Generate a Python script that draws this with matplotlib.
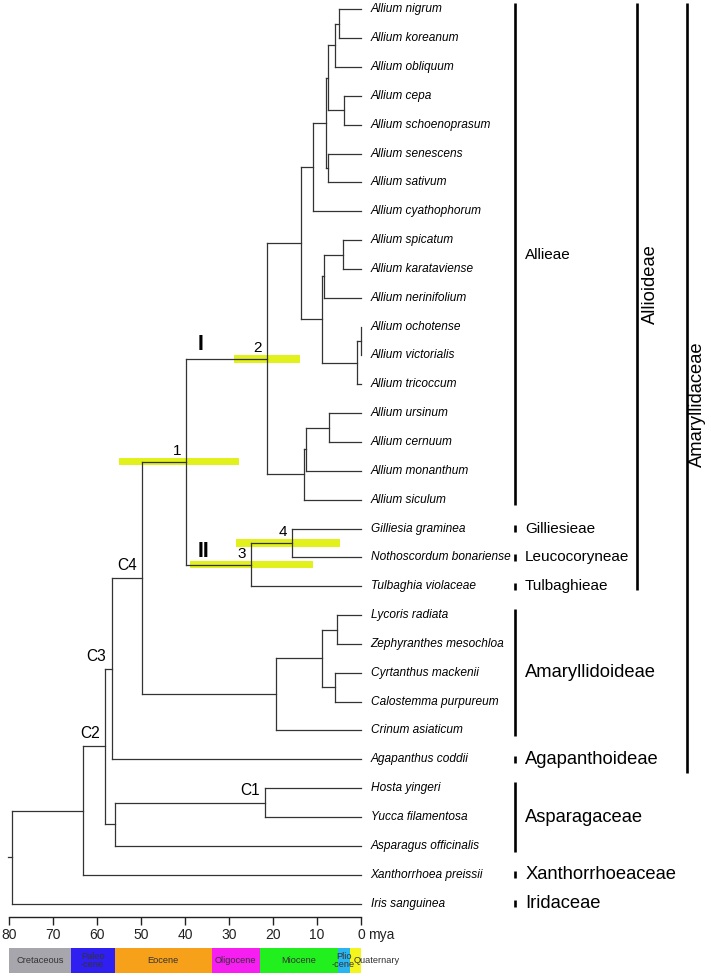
import matplotlib
matplotlib.use('Agg')
import matplotlib.pyplot as plt

plt.rcParams['font.family'] = ['Liberation Sans', 'DejaVu Sans']

# tips, top to bottom
tips = ['Allium nigrum', 'Allium koreanum', 'Allium obliquum', 'Allium cepa',
        'Allium schoenoprasum', 'Allium senescens', 'Allium sativum',
        'Allium cyathophorum', 'Allium spicatum', 'Allium karataviense',
        'Allium nerinifolium', 'Allium ochotense', 'Allium victorialis',
        'Allium tricoccum', 'Allium ursinum', 'Allium cernuum',
        'Allium monanthum', 'Allium siculum', 'Gilliesia graminea',
        'Nothoscordum bonariense', 'Tulbaghia violaceae', 'Lycoris radiata',
        'Zephyranthes mesochloa', 'Cyrtanthus mackenii', 'Calostemma purpureum',
        'Crinum asiaticum', 'Agapanthus coddii', 'Hosta yingeri',
        'Yucca filamentosa', 'Asparagus officinalis', 'Xanthorrhoea preissii',
        'Iris sanguinea']

# internal nodes: (name, child 1, child 2, age in mya)
clades = [
    ('a1', 'Allium nigrum', 'Allium koreanum', 5.1),
    ('a2', 'a1', 'Allium obliquum', 6.0),
    ('a3', 'Allium cepa', 'Allium schoenoprasum', 3.9),
    ('a4', 'a2', 'a3', 7.4),
    ('a5', 'Allium senescens', 'Allium sativum', 7.6),
    ('a6', 'a4', 'a5', 8.0),
    ('a7', 'a6', 'Allium cyathophorum', 10.8),
    ('b1', 'Allium spicatum', 'Allium karataviense', 4.2),
    ('b2', 'b1', 'Allium nerinifolium', 8.4),
    ('b3', 'Allium ochotense', 'Allium victorialis', 0.1),
    ('b4', 'b3', 'Allium tricoccum', 0.9),
    ('b5', 'b2', 'b4', 8.9),
    ('a8', 'a7', 'b5', 13.7),
    ('c1', 'Allium ursinum', 'Allium cernuum', 7.2),
    ('c2', 'c1', 'Allium monanthum', 12.4),
    ('c3', 'c2', 'Allium siculum', 13.0),
    ('n2', 'a8', 'c3', 21.4),
    ('n4', 'Gilliesia graminea', 'Nothoscordum bonariense', 15.6),
    ('n3', 'n4', 'Tulbaghia violaceae', 25.0),
    ('n1', 'n2', 'n3', 39.8),
    ('d1', 'Lycoris radiata', 'Zephyranthes mesochloa', 5.5),
    ('d2', 'Cyrtanthus mackenii', 'Calostemma purpureum', 6.0),
    ('d3', 'd1', 'd2', 8.9),
    ('d4', 'd3', 'Crinum asiaticum', 19.3),
    ('C4', 'n1', 'd4', 49.8),
    ('C3', 'C4', 'Agapanthus coddii', 56.7),
    ('C1', 'Hosta yingeri', 'Yucca filamentosa', 21.8),
    ('e1', 'C1', 'Asparagus officinalis', 56.0),
    ('C2', 'C3', 'e1', 58.2),
    ('f1', 'C2', 'Xanthorrhoea preissii', 63.2),
    ('root', 'f1', 'Iris sanguinea', 79.3),
]

# 95% HPD bars on numbered nodes: (label, node, old end, young end)
hpd = [('1', 'n1', 54.9, 27.7),
       ('2', 'n2', 28.9, 13.9),
       ('3', 'n3', 38.9, 10.8),
       ('4', 'n4', 28.3, 4.8)]

# clade brackets: (label, first tip, last tip, column)
groups = [('Allieae', 0, 17, 0), ('Gilliesieae', 18, 18, 0),
          ('Leucocoryneae', 19, 19, 0), ('Tulbaghieae', 20, 20, 0),
          ('Amaryllidoideae', 21, 25, 0), ('Agapanthoideae', 26, 26, 0),
          ('Asparagaceae', 27, 29, 0), ('Xanthorrhoeaceae', 30, 30, 0),
          ('Iridaceae', 31, 31, 0), ('Allioideae', 0, 20, 1),
          ('Amaryllidaceae', 0, 26, 2)]
small_groups = ['Allieae', 'Gilliesieae', 'Leucocoryneae', 'Tulbaghieae']

# geological time scale
epochs = ['Cretaceous', 'Paleo\n-cene', 'Eocene', 'Oligocene', 'Miocene',
          'Plio\n-cene', 'Quaternary']
epoch_old = [80, 66, 56, 33.9, 23, 5.3, 2.6]
epoch_young = [66, 56, 33.9, 23, 5.3, 2.6, 0]
epoch_colors = ['#a6a6ac', '#2f1ff0', '#f7a11a', '#f71ef2', '#22f01e',
                '#2ab4f0', '#f5f51e']
time_ticks = [80, 70, 60, 50, 40, 30, 20, 10, 0]

LINE = '#333333'

fig = plt.figure(figsize=(7.11, 9.76), dpi=100)
ax = fig.add_axes([0, 0, 1, 1])
ax.set_xlim(82.05, -79.55)
ax.set_ylim(33.51, -0.322)
ax.axis('off')

pos = {}
for i, t in enumerate(tips):
    pos[t] = (0.0, float(i))
for name, c1, c2, age in clades:
    pos[name] = (age, (pos[c1][1] + pos[c2][1]) / 2)

# HPD bars under the branches
for lab, node, old, young in hpd:
    ax.barh(pos[node][1], old - young, left=young, height=0.26,
            color='#e2f01c', zorder=1)
    ax.annotate(lab, xy=pos[node], xytext=(-9, 11), textcoords='offset pixels',
                ha='center', va='center', fontsize=11, zorder=4)

# branches
for name, c1, c2, age in clades:
    y1, y2 = pos[c1][1], pos[c2][1]
    ax.plot([age, age], [y1, y2], color=LINE, lw=0.9, zorder=2)
    for c in (c1, c2):
        ax.plot([age, pos[c][0]], [pos[c][1], pos[c][1]], color=LINE, lw=0.9,
                zorder=2)
ax.plot([80.2, pos['root'][0]], [pos['root'][1]] * 2, color=LINE, lw=0.9)

for t in tips:
    ax.text(-2.2, pos[t][1], t, style='italic', fontsize=8.6, va='center',
            ha='left')

# calibration labels
for c in ['C1', 'C2', 'C3', 'C4']:
    ax.annotate(c, xy=pos[c], xytext=(-15, 12.5), textcoords='offset pixels',
                ha='center', va='center', fontsize=11.2)

ax.annotate('I', xy=(pos['n1'][0], pos['n2'][1]), xytext=(15, 14),
            textcoords='offset pixels', ha='center', va='center',
            fontsize=15.5, fontweight='bold')
ax.annotate('II', xy=(pos['n1'][0], pos['n3'][1]), xytext=(18, 13),
            textcoords='offset pixels', ha='center', va='center',
            fontsize=15.5, fontweight='bold')

# brackets
col_x = [-35.0, -62.8, -74.0]
lab_dx = [2.3, 3.0, 2.4]
rot_shift = {'Allioideae': -0.46, 'Amaryllidaceae': 0.7}
for lab, first, last, col in groups:
    x = col_x[col]
    if first == last:
        y0, y1 = first - 0.13, last + 0.13
    else:
        y0, y1 = first - 0.2, last + 0.2
    if col == 0 and first == 0:
        y0 = -0.22
    if col > 0:
        y0 = -0.22
        y1 = last + (0.13 if col == 1 else 0.48)
    ax.plot([x, x], [y0, y1], color='black', lw=1.9, solid_capstyle='butt')
    size = 11 if lab in small_groups else 13.2
    if col == 0:
        ax.text(x - lab_dx[col], (first + last) / 2, lab, fontsize=size,
                va='center', ha='left')
    else:
        ax.text(x - lab_dx[col], (first + last) / 2 + rot_shift[lab], lab,
                fontsize=size, va='center', ha='center', rotation=90)

# time axis
tax = fig.add_axes([9 / 711, (976 - 916.7) / 976, 352 / 711, 0.0001])
tax.set_xlim(80, 0)
for s in ['left', 'right', 'top']:
    tax.spines[s].set_visible(False)
tax.spines['bottom'].set_linewidth(1.0)
tax.spines['bottom'].set_color('#222222')
tax.set_yticks([])
tax.set_xticks(time_ticks)
tax.set_xticklabels([str(t) for t in time_ticks])
tax.tick_params(axis='x', direction='out', length=5.8, width=1.0,
                colors='#222222', labelsize=10, pad=2)
tax.patch.set_visible(False)
fig.text(367.7 / 711, (976 - 935) / 976, 'mya', fontsize=10, va='center',
         ha='left', color='#222222')

gax = fig.add_axes([9 / 711, (976 - 972.7) / 976, 352 / 711, 25 / 976])
gax.set_xlim(80, 0)
gax.set_ylim(0, 1)
gax.axis('off')
for lab, old, young, colr in zip(epochs, epoch_old, epoch_young, epoch_colors):
    gax.barh(0.5, old - young, left=young, height=1, color=colr)
    if lab == 'Quaternary':
        gax.text(1.75, 0.5, lab, fontsize=6.7, va='center', ha='left',
                 color='#333333', clip_on=False)
    else:
        gax.text((old + young) / 2, 0.5, lab, fontsize=6.7, va='center',
                 ha='center', color='#333333', linespacing=0.85)

fig.savefig('out.png', dpi=100)
